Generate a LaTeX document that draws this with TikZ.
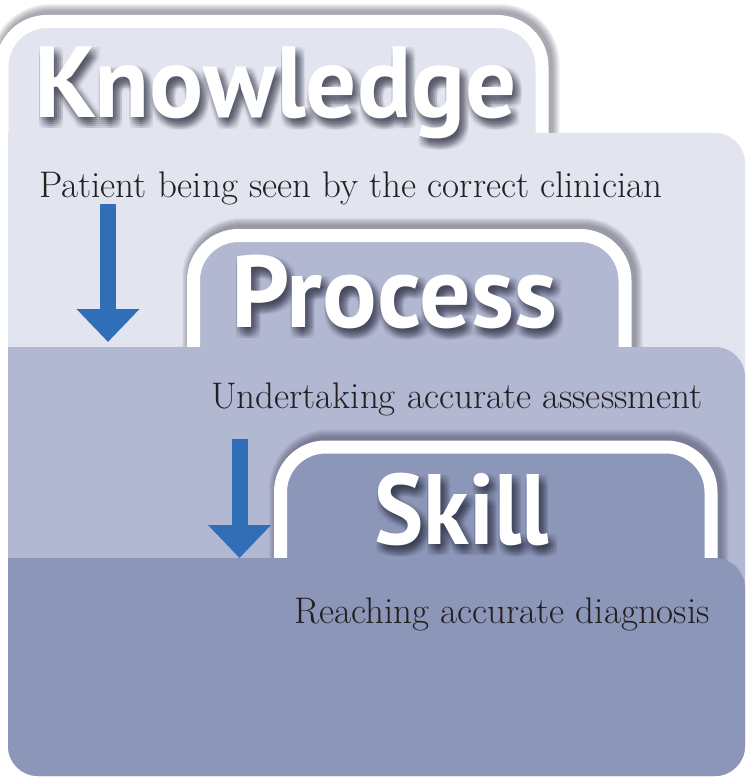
\documentclass[tikz,border=0pt]{standalone}
\usepackage{fontspec}
\newfontfamily\titlefont{PT Sans}
\usetikzlibrary{arrows.meta}
\definecolor{knowfill}{RGB}{226,229,239}
\definecolor{procfill}{RGB}{178,183,210}
\definecolor{skillfill}{RGB}{139,150,184}
\definecolor{arrowblue}{RGB}{49,110,184}
\definecolor{inkdark}{RGB}{35,31,32}
\definecolor{glow}{RGB}{40,42,60}

\begin{document}
\begin{tikzpicture}[x=1pt,y=-1pt,
    tabline/.style={draw=white,line width=13pt,rounded corners=45pt},
    tabglow/.style={draw=glow,line width=#1,opacity=.06,rounded corners=45pt,shift={(3,-3)}},
    title/.style={font=\titlefont\bfseries\fontsize{#1}{#1}\selectfont,text=white,anchor=base west,inner sep=0pt},
    titleshade/.style={title=#1,text=glow,opacity=.035},
    caption/.style={font=\fontsize{37}{44}\selectfont,text=inkdark,anchor=base west,inner sep=0pt},
    bigarrow/.style={draw=arrowblue,line width=16pt,-{Triangle[width=61pt,length=33pt]}}]
        \useasboundingbox (0,0) rectangle (747,778);
        \fill[white] (0,0) rectangle (747,778);

        % the three stacked tabs and bodies
        \foreach \lx/\ty/\rx/\by/\col in {2/21.5/542/133/knowfill,193.5/235.5/625/347/procfill,280.5/447/711/558/skillfill}{
            \foreach \w in {15,17,...,29}
                \draw[tabglow=\w pt] (\lx,\by+8) -- (\lx,\ty) -- (\rx,\ty) -- (\rx,\by+8);
            \fill[\col,rounded corners=45pt] (\lx,\by+8) -- (\lx,\ty) -- (\rx,\ty) -- (\rx,\by+8);
            \draw[tabline] (\lx,\by+8) -- (\lx,\ty) -- (\rx,\ty) -- (\rx,\by+8);
            \fill[\col,rounded corners=30pt] (8,\by) rectangle (745,776);
            \fill[\col] (8,\by) rectangle (60,\by+60);
        }

        % shaded titles
        \foreach \dx in {-1,1,...,9}
            \foreach \dy in {1,3,...,11}{
                \node[titleshade=101,xshift=\dx pt,yshift=-\dy pt] at (34,118) {Knowledge};
                \node[titleshade=102,xshift=\dx pt,yshift=-\dy pt] at (231,327) {Process};
                \node[titleshade=100,xshift=\dx pt,yshift=-\dy pt] at (374,544) {\scalebox{0.93}[1]{Skill}};
            }
        \node[title=101] (know) at (34,118) {Knowledge};
        \node[title=102] (proc) at (231,327) {Process};
        \node[title=100] (skill) at (374,544) {\scalebox{0.93}[1]{Skill}};

        \node[caption] (seen) at (39,197) {Patient being seen by the correct clinician};
        \node[caption] (assess) at (211,408) {Undertaking accurate assessment};
        \node[caption] (diag) at (294,623) {Reaching accurate diagnosis};

        \coordinate (drop1) at (108,204);
        \coordinate (land1) at (108,342);
        \coordinate (drop2) at (239.5,439);
        \coordinate (land2) at (239.5,558);
        \draw[bigarrow] (drop1) -- (land1);
        \draw[bigarrow] (drop2) -- (land2);
    \end{tikzpicture}
\end{document}
